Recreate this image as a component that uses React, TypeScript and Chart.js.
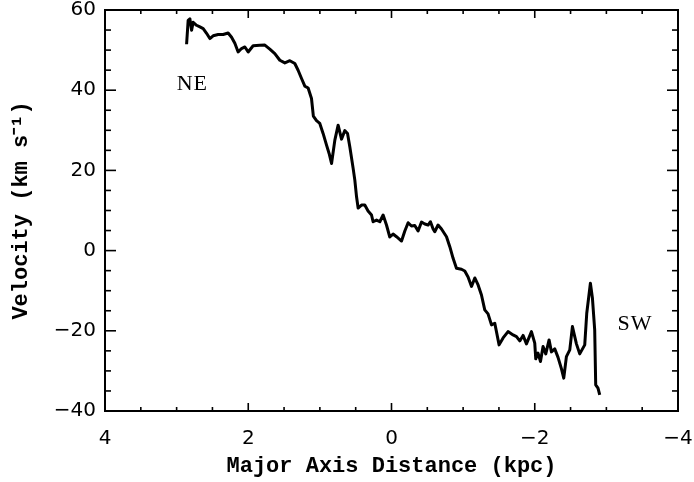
import React, { useEffect, useRef } from "react";
import { Chart, registerables } from "chart.js";

Chart.register(...registerables);

// Major axis distance (kpc)
const distance = [
  2.861, 2.839, 2.815, 2.791, 2.769, 2.722, 2.675, 2.629, 2.582, 2.536,
  2.49, 2.42, 2.35, 2.281, 2.233, 2.187, 2.141, 2.094, 2.047, 2.001,
  1.932, 1.838, 1.768, 1.699, 1.629, 1.559, 1.489, 1.419, 1.35, 1.304,
  1.256, 1.21, 1.164, 1.117, 1.091, 1.047, 1.001, 0.955, 0.907, 0.871,
  0.837, 0.791, 0.745, 0.698, 0.652, 0.614, 0.582, 0.536, 0.512, 0.488,
  0.466, 0.419, 0.373, 0.327, 0.279, 0.257, 0.209, 0.163, 0.117, 0.07,
  0.024, -0.022, -0.07, -0.14, -0.186, -0.232, -0.279, -0.325, -0.371, -0.419,
  -0.465, -0.511, -0.544, -0.581, -0.604, -0.65, -0.698, -0.768, -0.814, -0.86,
  -0.907, -0.977, -1.023, -1.069, -1.117, -1.163, -1.209, -1.256, -1.302, -1.348,
  -1.396, -1.442, -1.502, -1.558, -1.627, -1.697, -1.745, -1.791, -1.837, -1.884,
  -1.954, -2.0, -2.014, -2.046, -2.08, -2.116, -2.154, -2.2, -2.233, -2.279,
  -2.325, -2.373, -2.405, -2.442, -2.489, -2.526, -2.582, -2.628, -2.698, -2.726,
  -2.777, -2.805, -2.837, -2.851, -2.883, -2.907,
];

// Velocity (km/s)
const velocity = [
  51.46, 57.43, 57.81, 54.94, 56.94, 56.19, 55.77, 55.37, 54.2, 52.88,
  53.57, 53.87, 53.9, 54.27, 53.2, 51.71, 49.54, 50.39, 50.78, 49.54,
  51.08, 51.21, 51.26, 50.26, 49.14, 47.47, 46.8, 47.35, 46.65, 44.98,
  42.91, 41.0, 40.55, 37.93, 33.52, 32.4, 31.71, 29.22, 26.3, 24.23,
  21.74, 27.55, 31.28, 27.8, 29.91, 29.22, 25.88, 20.57, 17.58, 13.42,
  10.61, 11.36, 11.36, 9.86, 8.87, 7.2, 7.62, 7.2, 8.87, 6.38,
  3.39, 4.13, 3.46, 2.39, 4.88, 6.95, 6.13, 6.25, 4.88, 7.12,
  6.63, 6.38, 7.2, 5.38, 4.71, 6.38, 5.38, 3.46, 0.97, -1.92,
  -4.41, -4.66, -5.08, -6.58, -8.94, -6.82, -8.57, -11.06, -14.79, -15.79,
  -18.53, -18.11, -23.51, -21.77, -20.2, -21.02, -21.44, -22.52, -21.15, -23.26,
  -20.2, -23.09, -27.0, -25.58, -27.67, -23.94, -25.75, -22.27, -25.26, -24.51,
  -26.63, -29.49, -31.81, -26.43, -24.76, -18.95, -23.26, -25.75, -23.51, -15.62,
  -8.14, -11.81, -19.78, -33.47, -34.3, -35.97,
];

// Axis settings
const xMin = -4;
const xMax = 4;
const xMajorStep = 2;
const xMinorStep = 0.5;
const yMin = -40;
const yMax = 60;
const yMajorStep = 20;
const yMinorStep = 5;

// Annotations
const noteLabels = ["NE", "SW"];
const noteX = [2.78, -3.4];
const noteY = [41.4, -18.3];

const xTitle = "Major Axis Distance (kpc)";
const yTitle = "Velocity (km s\u207B\u00B9)";

const fmt = (v: number) => (v < 0 ? "\u2212" + Math.abs(v) : String(v));

const framePlugin = {
  id: "idlFrame",
  afterDatasetsDraw(chart: any) {
    const { ctx, chartArea: a, scales } = chart;
    const xs = scales.x;
    const ys = scales.y;
    ctx.save();
    ctx.strokeStyle = "#000";
    ctx.lineCap = "butt";
    ctx.lineWidth = 1.6;
    const seg = (x1: number, y1: number, x2: number, y2: number) => {
      ctx.beginPath();
      ctx.moveTo(x1, y1);
      ctx.lineTo(x2, y2);
      ctx.stroke();
    };
    const isMajor = (v: number, step: number) =>
      Math.abs(v / step - Math.round(v / step)) < 1e-6;
    const nx = Math.round((xMax - xMin) / xMinorStep);
    for (let i = 0; i <= nx; i++) {
      const v = xMin + i * xMinorStep;
      const px = xs.getPixelForValue(v);
      const len = isMajor(v, xMajorStep) ? 8 : 4;
      seg(px, a.bottom, px, a.bottom - len);
      seg(px, a.top, px, a.top + len);
    }
    const ny = Math.round((yMax - yMin) / yMinorStep);
    for (let i = 0; i <= ny; i++) {
      const v = yMin + i * yMinorStep;
      const py = ys.getPixelForValue(v);
      const len = isMajor(v, yMajorStep) ? 11 : 6;
      seg(a.left, py, a.left + len, py);
      seg(a.right, py, a.right - len, py);
    }
    ctx.lineWidth = 2;
    ctx.strokeRect(a.left, a.top, a.right - a.left, a.bottom - a.top);

    ctx.fillStyle = "#000";
    ctx.font = "22px 'Liberation Serif'";
    ctx.textAlign = "center";
    ctx.textBaseline = "middle";
    try {
      (ctx as any).letterSpacing = "1px";
    } catch (e) {}
    noteLabels.forEach((t, i) => {
      ctx.fillText(t, xs.getPixelForValue(noteX[i]), ys.getPixelForValue(noteY[i]));
    });
    try {
      (ctx as any).letterSpacing = "0px";
    } catch (e) {}
    ctx.restore();
  },
};

export default function App() {
  const ref = useRef<HTMLCanvasElement | null>(null);
  useEffect(() => {
    if (!ref.current) return;
    const points = distance.map((d, i) => ({ x: d, y: velocity[i] }));
    const chart = new Chart(ref.current, {
      type: "scatter",
      data: {
        datasets: [
          {
            data: points,
            showLine: true,
            borderColor: "#000",
            backgroundColor: "#000",
            borderWidth: 3,
            pointRadius: 0,
            tension: 0,
            borderJoinStyle: "round",
          } as any,
        ],
      },
      options: {
        animation: false,
        responsive: false,
        devicePixelRatio: 1,
        events: [],
        layout: { padding: { top: 10, right: 16, left: 0, bottom: 0 } },
        plugins: {
          legend: { display: false },
          tooltip: { enabled: false },
          title: { display: false },
        },
        scales: {
          x: {
            type: "linear",
            reverse: true,
            min: xMin,
            max: xMax,
            grid: { display: false, drawTicks: false },
            border: { display: false },
            ticks: {
              stepSize: xMajorStep,
              color: "#000",
              padding: 16,
              maxRotation: 0,
              font: { family: "'DejaVu Sans'", size: 20 },
              callback: (v: any) => fmt(Number(v)),
            },
            title: {
              display: true,
              text: xTitle,
              color: "#000",
              font: { family: "'Liberation Mono'", size: 22, weight: "bold" },
              padding: { top: 0, bottom: 2 },
            },
            afterFit: (s: any) => {
              s.height = 71;
              s.paddingLeft = 0;
              s.paddingRight = 0;
            },
          },
          y: {
            type: "linear",
            min: yMin,
            max: yMax,
            grid: { display: false, drawTicks: false },
            border: { display: false },
            ticks: {
              stepSize: yMajorStep,
              color: "#000",
              padding: 9,
              font: { family: "'DejaVu Sans'", size: 20 },
              callback: (v: any) => fmt(Number(v)),
            },
            title: {
              display: true,
              text: yTitle,
              color: "#000",
              font: { family: "'Liberation Mono'", size: 22, weight: "bold" },
              padding: { top: 8, bottom: 0 },
            },
            afterFit: (s: any) => {
              s.width = 105;
              s.paddingTop = 0;
              s.paddingBottom = 0;
            },
          },
        },
      },
      plugins: [framePlugin],
    });
    return () => chart.destroy();
  }, []);
  return (
    <div style={{ position: "absolute", left: 0, top: 0, width: 694, height: 482, background: "#fff" }}>
      <canvas ref={ref} width={694} height={482} />
    </div>
  );
}
